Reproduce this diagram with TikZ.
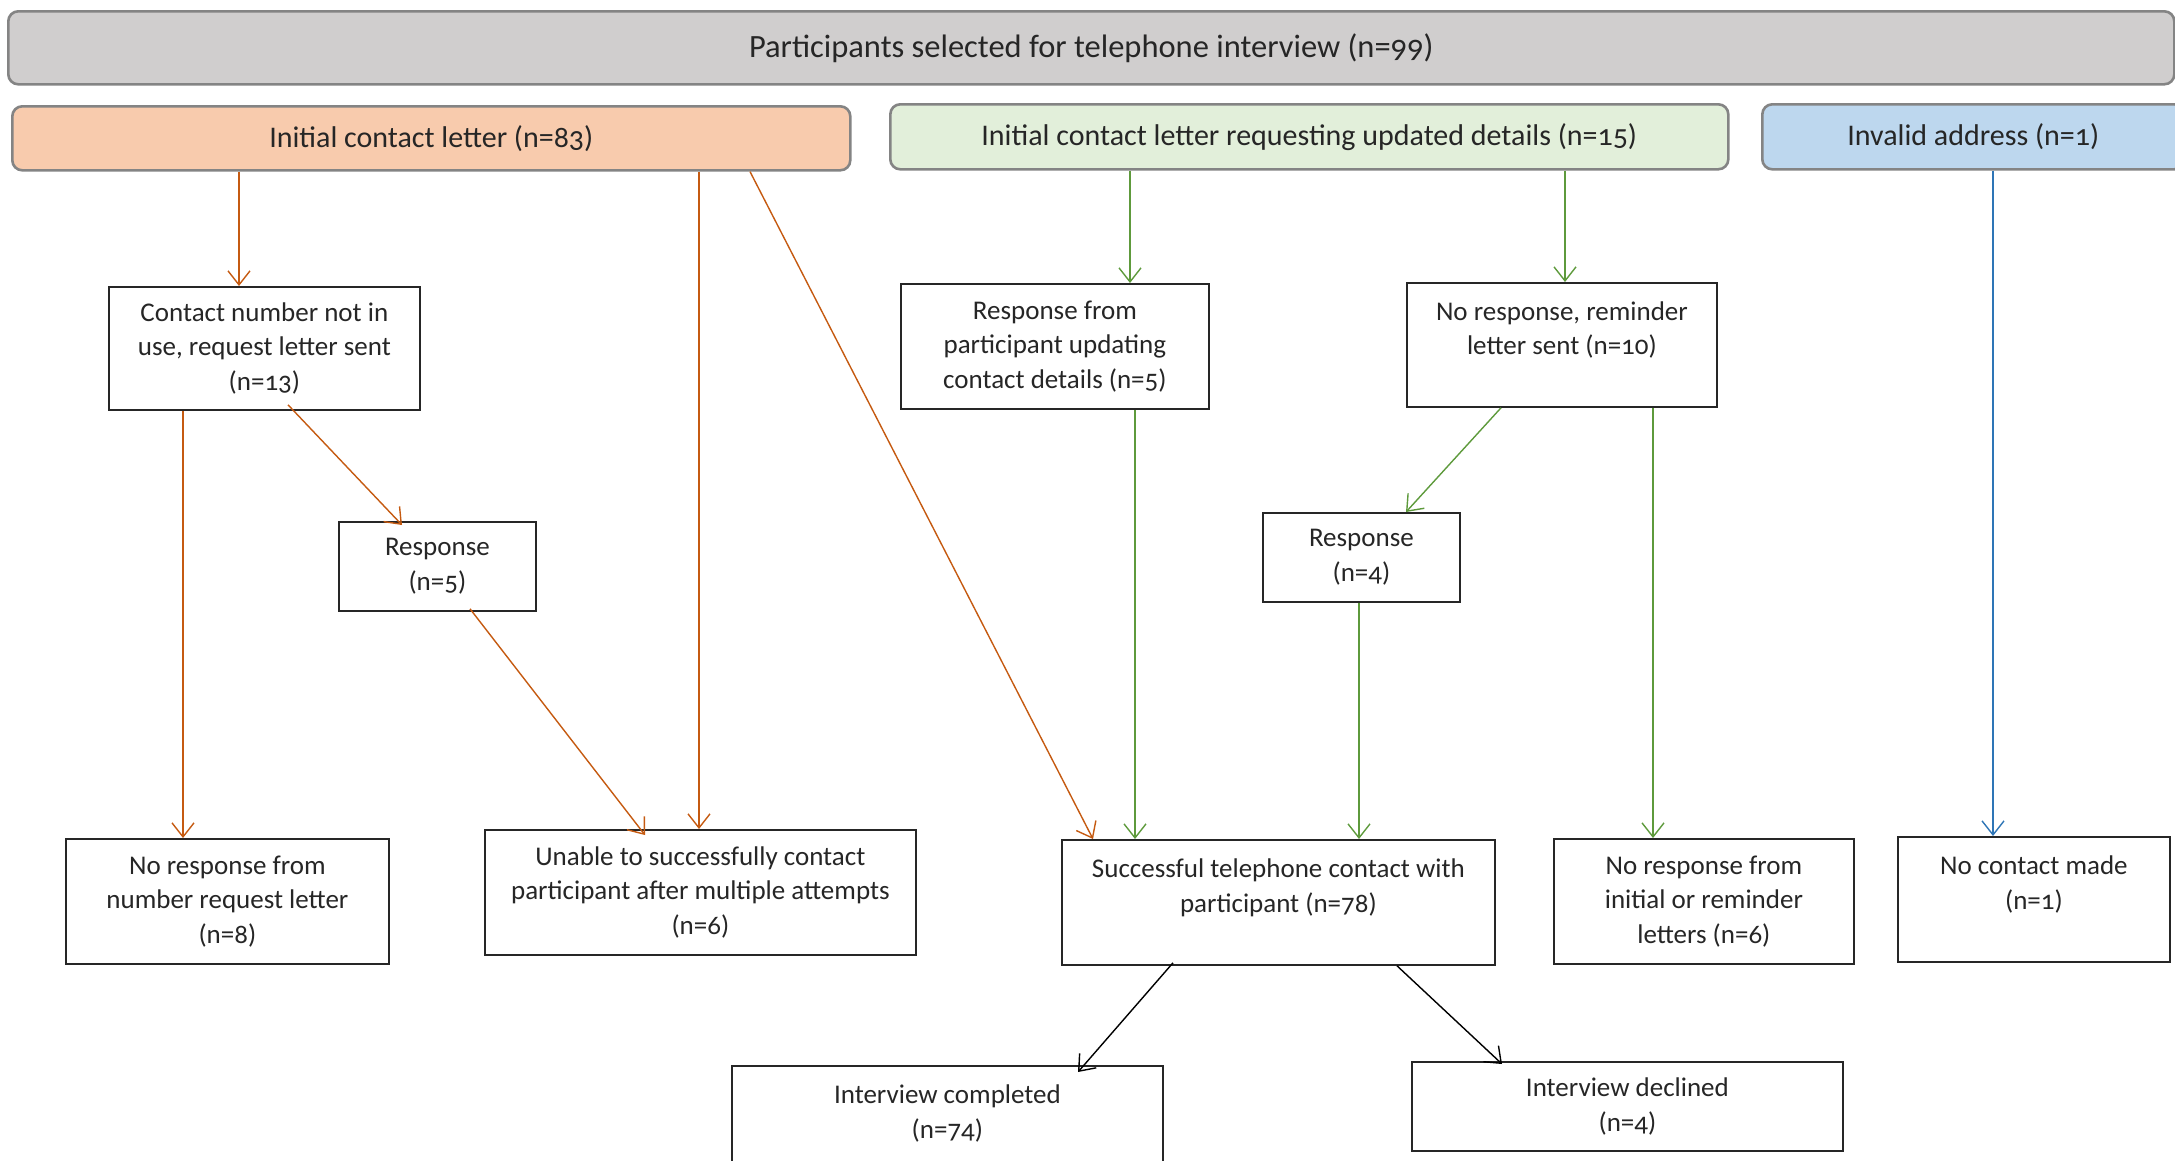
\documentclass[tikz,border=0pt]{standalone}
\usepackage{fontspec}
\setmainfont{Carlito}[Numbers=OldStyle]
\usetikzlibrary{arrows.meta}

\definecolor{txt}{HTML}{262626}
\definecolor{hdrline}{HTML}{848484}
\definecolor{fillgray}{HTML}{D0CECE}
\definecolor{fillorange}{HTML}{F8CBAD}
\definecolor{fillgreen}{HTML}{E2EFDA}
\definecolor{fillblue}{HTML}{BDD7EE}
\definecolor{lineorange}{HTML}{C55A11}
\definecolor{linegreen}{HTML}{5E9A3C}
\definecolor{lineblue}{HTML}{2E75B6}

\tikzset{
  hdr/.style={draw=hdrline, line width=2.6pt, rounded corners=10pt,
    anchor=north west, inner sep=0pt, align=center, text=txt,
    font=\fontsize{30}{36}\selectfont},
  flowbox/.style={draw=black!85, line width=1.8pt, fill=white,
    anchor=north west, inner sep=0pt, align=center, text=txt,
    font=\fontsize{27}{34.5}\selectfont},
  link/.style={-{Straight Barb[length=14pt,width=22pt]}, line width=1.4pt},
  orangelink/.style={link, draw=lineorange},
  greenlink/.style={link, draw=linegreen},
  bluelink/.style={link, draw=lineblue},
  blacklink/.style={link, draw=black}
}

\begin{document}
\begin{tikzpicture}[x=1pt, y=-1pt]
\useasboundingbox (0,0) rectangle (2175,1160);
\clip (0,0) rectangle (2175,1160);

% header row
\node[hdr, fill=fillgray, minimum width=2166pt, minimum height=73pt,
      font=\fontsize{32.5}{38}\selectfont] (top) at (7,10)
  {Participants selected for telephone interview (n=99)};
\node[hdr, fill=fillorange, minimum width=838pt, minimum height=64pt] (init) at (11,105)
  {Initial contact letter (n=83)};
\node[hdr, fill=fillgreen, minimum width=838pt, minimum height=65pt] (upd) at (889,103)
  {Initial contact letter requesting updated details (n=15)};
\node[hdr, fill=fillblue, minimum width=422pt, minimum height=65pt] (inv) at (1761,103)
  {Invalid address (n=1)};

% intermediate steps
\node[flowbox, minimum width=311pt, minimum height=123pt] (cont) at (108,286)
  {Contact number not in\\use, request letter sent\\(n=13)};
\node[flowbox, minimum width=197pt, minimum height=89pt] (resp5) at (338,521)
  {Response\\(n=5)};
\node[flowbox, minimum width=308pt, minimum height=125pt] (respupd) at (900,283)
  {Response from\\participant updating\\contact details (n=5)};
\node[flowbox, minimum width=310pt, minimum height=124pt] (rem) at (1406,282)
  {No response, reminder\\letter sent (n=10)\\[-11pt]\strut};
\node[flowbox, minimum width=197pt, minimum height=89pt] (resp4) at (1262,512)
  {Response\\(n=4)};

% outcomes
\node[flowbox, minimum width=323pt, minimum height=125pt] (nonum) at (65,838)
  {No response from\\number request letter\\(n=8)};
\node[flowbox, minimum width=431pt, minimum height=125pt] (unable) at (484,829)
  {Unable to successfully contact\\participant after multiple attempts\\(n=6)};
\node[flowbox, minimum width=433pt, minimum height=125pt] (succ) at (1061,839)
  {Successful telephone contact with\\participant (n=78)\\[-11pt]\strut};
\node[flowbox, minimum width=300pt, minimum height=125pt] (noletter) at (1553,838)
  {No response from\\initial or reminder\\letters (n=6)};
\node[flowbox, minimum width=272pt, minimum height=125pt] (nocont) at (1897,836)
  {No contact made\\(n=1)\\[-11pt]\strut};
\node[flowbox, minimum width=431pt, minimum height=125pt] (done) at (731,1065)
  {Interview completed\\(n=74)\\[-11pt]\strut};
\node[flowbox, minimum width=431pt, minimum height=89pt] (decl) at (1411,1061)
  {Interview declined\\(n=4)};

% initial contact letter branch
\draw[orangelink] (init.south -| 239,0) -- (cont.north -| 239,0);
\draw[orangelink] (init.south -| 699,0) -- (unable.north -| 699,0);
\draw[orangelink] (init.south -| 750,0) -- (succ.north -| 1093,0);
\draw[orangelink] (cont.south -| 183,0) -- (nonum.north -| 183,0);
\draw[orangelink] ([yshift=6pt]cont.south -| 288,0) -- ([yshift=-4pt]resp5.north -| 402,0);
\draw[orangelink] ([yshift=3pt]resp5.south -| 470,0) -- ([yshift=-6pt]unable.north -| 645,0);

% updated details branch
\draw[greenlink] (upd.south -| 1130,0) -- (respupd.north -| 1130,0);
\draw[greenlink] (upd.south -| 1565,0) -- (rem.north -| 1565,0);
\draw[greenlink] (respupd.south -| 1135,0) -- (succ.north -| 1135,0);
\draw[greenlink] (rem.south -| 1501,0) -- (resp4.north -| 1406,0);
\draw[greenlink] (rem.south -| 1653,0) -- (noletter.north -| 1653,0);
\draw[greenlink] (resp4.south -| 1359,0) -- (succ.north -| 1359,0);

% invalid address branch
\draw[bluelink] (inv.south -| 1993,0) -- (nocont.north -| 1993,0);

% interview outcome
\draw[blacklink] ([yshift=3pt]succ.south -| 1173,0) -- ([yshift=-7pt]done.north -| 1078,0);
\draw[blacklink] (succ.south -| 1397,0) -- ([yshift=-3pt]decl.north -| 1502,0);
\end{tikzpicture}
\end{document}
